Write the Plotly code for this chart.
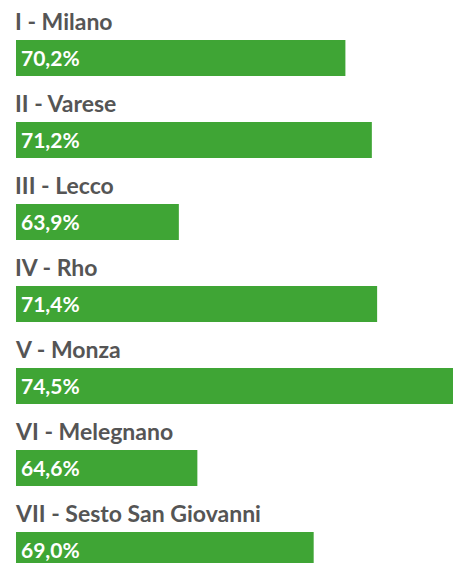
import plotly.graph_objects as go

categories = ["I - Milano", "II - Varese", "III - Lecco", "IV - Rho", "V - Monza",
              "VI - Melegnano", "VII - Sesto San Giovanni"]
values = [70.2, 71.2, 63.9, 71.4, 74.5, 64.6, 69.0]
value_labels = ["70,2%", "71,2%", "63,9%", "71,4%", "74,5%", "64,6%", "69,0%"]

GREEN = "#3fa535"
GREY = "#555555"
FONT = "Lato"

fig = go.Figure()
fig.add_trace(go.Bar(
    x=values, y=categories, orientation="h",
    marker=dict(color=GREEN, line=dict(width=0)),
    hoverinfo="skip",
))

for cat, lab in zip(categories, value_labels):
    fig.add_annotation(x=0, xref="paper", y=cat, yref="y", text=lab,
                       showarrow=False, xanchor="left", yanchor="middle", xshift=3, yshift=0,
                       font=dict(family=FONT, size=21, color="white", weight="bold"))
    fig.add_annotation(x=0, xref="paper", y=cat, yref="y", text=cat,
                       showarrow=False, xanchor="left", yanchor="middle", xshift=-3, yshift=37,
                       font=dict(family=FONT, size=23, color=GREY, weight="bold"))

fig.update_layout(
    width=453, height=563,
    margin=dict(l=16, r=0, t=0, b=0),
    paper_bgcolor="white", plot_bgcolor="white",
    showlegend=False,
    bargap=0.56,
    xaxis=dict(range=[57.74, 74.27], visible=False, fixedrange=True),
    yaxis=dict(range=[6.159, -0.707], visible=False, fixedrange=True),
)

fig.write_html(
    "out.html",
    config={"displayModeBar": False},
    post_script="document.documentElement.style.overflow='hidden';"
                "document.body.style.margin='0';document.body.style.overflow='hidden';",
)
